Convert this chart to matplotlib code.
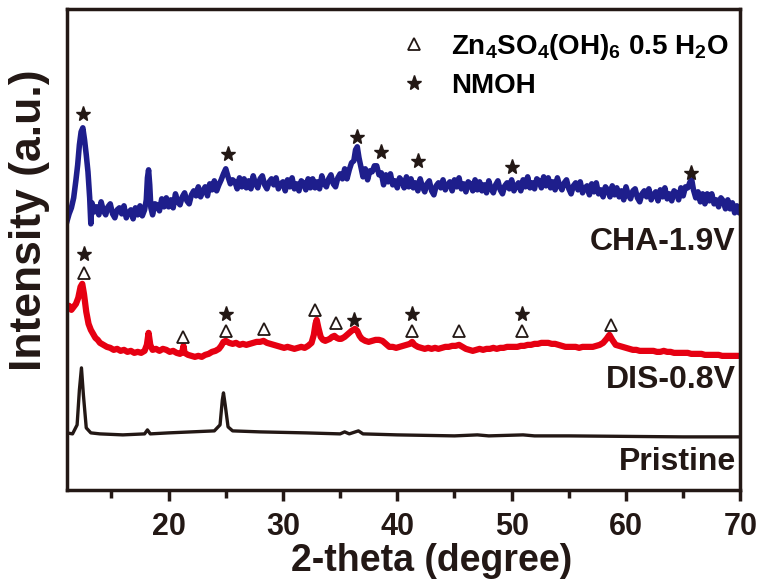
import matplotlib
matplotlib.use("Agg")
import matplotlib.pyplot as plt
from matplotlib.lines import Line2D

plt.rcParams['font.family'] = ['Liberation Sans', 'DejaVu Sans']
plt.rcParams['font.weight'] = 'bold'
plt.rcParams['mathtext.default'] = 'regular'

# (2-theta, intensity), arbitrary units
pristine = [(11.1, 57), (11.6, 56), (12.0, 65), (12.2, 100), (12.38, 122), (12.55, 95),
            (12.8, 62), (13.2, 57), (14, 56), (16, 55), (17.9, 56), (18.15, 60), (18.4, 56),
            (20, 57), (22, 58), (24, 59), (24.5, 65), (24.7, 90), (24.8, 97), (24.95, 85),
            (25.2, 63), (25.6, 59), (28, 58), (32, 57), (35, 56), (35.4, 58), (35.8, 56),
            (36.6, 59), (37, 56), (40, 55), (45, 54), (47, 55), (48, 54), (51, 55), (52, 54),
            (55, 54), (60, 53.5), (65, 53), (70, 53)]

dis = [(11.1, 182), (11.3, 184), (11.5, 180), (11.7, 183), (11.9, 186), (12.1, 192), (12.3, 203),
       (12.45, 206), (12.6, 196), (12.8, 178), (13.0, 166), (13.2, 160), (13.4, 156), (13.6, 152),
       (13.8, 150), (14.0, 147), (14.3, 145), (14.6, 143), (14.9, 142), (15.2, 140), (15.5, 141),
       (15.8, 139), (16.1, 140), (16.4, 138), (16.7, 139), (17.0, 137), (17.3, 138), (17.6, 137),
       (17.9, 139), (18.1, 145), (18.25, 157), (18.4, 145), (18.6, 140), (18.9, 141), (19.2, 139),
       (19.5, 141), (19.8, 140), (20.1, 138), (20.4, 139), (20.7, 137), (21.0, 136), (21.2, 138),
       (21.3, 144), (21.4, 137), (21.7, 135), (22.0, 134), (22.3, 133), (22.6, 134), (22.9, 133),
       (23.2, 135), (23.5, 136), (23.8, 138), (24.1, 139), (24.4, 141), (24.6, 144), (24.8, 148),
       (25.0, 149), (25.3, 147), (25.6, 146), (25.9, 147), (26.2, 145), (26.5, 146), (26.8, 145),
       (27.1, 146), (27.4, 147), (27.7, 148), (28.0, 148), (28.3, 149), (28.6, 147), (28.9, 146),
       (29.2, 145), (29.5, 144), (29.8, 143), (30.1, 142), (30.4, 143), (30.7, 142), (31.0, 141),
       (31.3, 142), (31.6, 143), (31.9, 142), (32.2, 144), (32.5, 147), (32.7, 155), (32.85, 166),
       (32.95, 170), (33.1, 162), (33.3, 153), (33.5, 150), (33.7, 149), (33.9, 150), (34.1, 151),
       (34.3, 153), (34.5, 154), (34.7, 152), (34.9, 151), (35.1, 151), (35.4, 153), (35.7, 156),
       (36.0, 159), (36.3, 161), (36.5, 159), (36.7, 154), (36.9, 151), (37.2, 149), (37.5, 148),
       (37.8, 149), (38.1, 150), (38.4, 150), (38.7, 149), (39.0, 146), (39.3, 143), (39.6, 143),
       (39.9, 142), (40.2, 143), (40.5, 144), (40.8, 145), (41.1, 146), (41.3, 148), (41.5, 145),
       (41.8, 143), (42.1, 142), (42.4, 141), (42.7, 142), (43.0, 141), (43.3, 142), (43.6, 141),
       (43.9, 142), (44.2, 143), (44.5, 143), (44.8, 144), (45.1, 144), (45.4, 145), (45.7, 143),
       (46.0, 141), (46.3, 140), (46.6, 139), (46.9, 140), (47.2, 141), (47.5, 140), (47.8, 141),
       (48.1, 141), (48.4, 142), (48.7, 141), (49.0, 142), (49.3, 142), (49.6, 143), (49.9, 143),
       (50.2, 143), (50.5, 143), (50.8, 144), (51.1, 144), (51.4, 145), (51.7, 145), (52.0, 146),
       (52.3, 146), (52.6, 147), (52.9, 147), (53.2, 147), (53.5, 146), (53.8, 146), (54.1, 145),
       (54.4, 144), (54.7, 143), (55.0, 143), (55.3, 143), (55.6, 143), (55.9, 142), (56.2, 143),
       (56.5, 143), (56.8, 143), (57.1, 143), (57.4, 144), (57.7, 145), (58.0, 147), (58.3, 151),
       (58.55, 155), (58.8, 150), (59.1, 145), (59.4, 144), (59.7, 143), (60.0, 142), (60.3, 141),
       (60.6, 140), (60.9, 140), (61.2, 139), (61.5, 139), (61.8, 139), (62.1, 139), (62.4, 139),
       (62.7, 138), (63.0, 138), (63.3, 139), (63.6, 138), (63.9, 138), (64.2, 137), (64.5, 137),
       (64.8, 137), (65.1, 137), (65.4, 137), (65.7, 136), (66.0, 136), (66.3, 136), (66.6, 136),
       (66.9, 135), (67.2, 135), (67.5, 135), (67.8, 135), (68.1, 135), (68.4, 134), (68.7, 134),
       (69.0, 134), (69.3, 134), (69.6, 134), (70.0, 134)]

cha = [(11.1, 268), (11.3, 276), (11.5, 282), (11.7, 292), (11.9, 310), (12.05, 325), (12.2, 345),
       (12.35, 358), (12.5, 362), (12.65, 350), (12.8, 335), (12.95, 318), (13.1, 292), (13.2, 266),
       (13.3, 287), (13.5, 278), (13.7, 283), (13.9, 275), (14.1, 288), (14.3, 279), (14.5, 275),
       (14.7, 283), (14.9, 286), (15.1, 276), (15.3, 272), (15.5, 280), (15.7, 282), (15.9, 276),
       (16.1, 284), (16.3, 272), (16.5, 277), (16.7, 280), (16.9, 271), (17.1, 282), (17.3, 275),
       (17.5, 284), (17.7, 274), (17.9, 280), (18.05, 290), (18.15, 312), (18.25, 320), (18.35, 305),
       (18.45, 282), (18.6, 275), (18.8, 286), (19.0, 285), (19.2, 279), (19.4, 291), (19.6, 283),
       (19.8, 292), (20.0, 283), (20.2, 290), (20.4, 282), (20.6, 296), (20.8, 288), (21.0, 285),
       (21.2, 293), (21.4, 297), (21.6, 289), (21.8, 286), (22.0, 295), (22.2, 299), (22.4, 294),
       (22.6, 303), (22.8, 293), (23.0, 299), (23.2, 303), (23.4, 294), (23.6, 306), (23.8, 300),
       (24.0, 309), (24.2, 299), (24.4, 305), (24.6, 310), (24.8, 316), (25.0, 321), (25.2, 313),
       (25.4, 306), (25.6, 310), (25.8, 308), (26.0, 301), (26.2, 312), (26.4, 303), (26.6, 311),
       (26.8, 302), (27.0, 309), (27.2, 301), (27.4, 314), (27.6, 306), (27.8, 302), (28.0, 311),
       (28.2, 314), (28.4, 305), (28.6, 301), (28.8, 308), (29.0, 311), (29.2, 305), (29.4, 312),
       (29.6, 301), (29.8, 306), (30.0, 308), (30.2, 299), (30.4, 310), (30.6, 303), (30.8, 312),
       (31.0, 301), (31.2, 306), (31.4, 299), (31.6, 309), (31.8, 307), (32.0, 300), (32.2, 311),
       (32.4, 302), (32.6, 311), (32.8, 302), (33.0, 308), (33.2, 301), (33.4, 314), (33.6, 306),
       (33.8, 303), (34.0, 311), (34.2, 315), (34.4, 306), (34.6, 303), (34.8, 312), (35.0, 316),
       (35.2, 311), (35.4, 321), (35.6, 311), (35.8, 320), (36.0, 327), (36.2, 329), (36.35, 340),
       (36.5, 343), (36.65, 332), (36.8, 324), (37.0, 313), (37.2, 321), (37.4, 310), (37.6, 319),
       (37.8, 318), (38.0, 324), (38.2, 324), (38.4, 315), (38.6, 317), (38.8, 305), (39.0, 315),
       (39.2, 308), (39.4, 316), (39.6, 305), (39.8, 309), (40.0, 302), (40.2, 312), (40.4, 309),
       (40.6, 302), (40.8, 313), (41.0, 303), (41.2, 311), (41.4, 302), (41.6, 307), (41.8, 299),
       (42.0, 311), (42.2, 303), (42.4, 298), (42.6, 306), (42.8, 309), (43.0, 299), (43.2, 295),
       (43.4, 304), (43.6, 307), (43.8, 302), (44.0, 310), (44.2, 300), (44.4, 305), (44.6, 308),
       (44.8, 299), (45.0, 310), (45.2, 303), (45.4, 312), (45.6, 301), (45.8, 306), (46.0, 298),
       (46.2, 308), (46.4, 306), (46.6, 299), (46.8, 310), (47.0, 300), (47.2, 308), (47.4, 299),
       (47.6, 305), (47.8, 297), (48.0, 309), (48.2, 301), (48.4, 297), (48.6, 305), (48.8, 309),
       (49.0, 300), (49.2, 296), (49.4, 304), (49.6, 307), (49.8, 301), (50.0, 310), (50.2, 299),
       (50.4, 304), (50.6, 307), (50.8, 299), (51.0, 310), (51.2, 303), (51.4, 313), (51.6, 302),
       (51.8, 307), (52.0, 301), (52.2, 311), (52.4, 309), (52.6, 302), (52.8, 313), (53.0, 304),
       (53.2, 312), (53.4, 302), (53.6, 308), (53.8, 300), (54.0, 312), (54.2, 304), (54.4, 300),
       (54.6, 307), (54.8, 310), (55.0, 301), (55.2, 296), (55.4, 304), (55.6, 307), (55.8, 300),
       (56.0, 308), (56.2, 297), (56.4, 302), (56.6, 304), (56.8, 295), (57.0, 306), (57.2, 298),
       (57.4, 307), (57.6, 296), (57.8, 300), (58.0, 293), (58.2, 303), (58.4, 300), (58.6, 293),
       (58.8, 304), (59.0, 295), (59.2, 302), (59.4, 293), (59.6, 299), (59.8, 290), (60.0, 303),
       (60.2, 295), (60.4, 291), (60.6, 299), (60.8, 301), (61.0, 292), (61.2, 288), (61.4, 296),
       (61.6, 299), (61.8, 293), (62.0, 301), (62.2, 290), (62.4, 295), (62.6, 298), (62.8, 289),
       (63.0, 300), (63.2, 293), (63.4, 302), (63.6, 291), (63.8, 296), (64.0, 289), (64.2, 299),
       (64.4, 297), (64.6, 290), (64.8, 302), (65.0, 294), (65.2, 303), (65.4, 302), (65.6, 308),
       (65.75, 310), (65.9, 300), (66.1, 292), (66.3, 298), (66.5, 288), (66.7, 296), (66.9, 286),
       (67.1, 296), (67.3, 289), (67.5, 296), (67.7, 286), (67.9, 290), (68.1, 283), (68.3, 292),
       (68.5, 289), (68.7, 281), (68.9, 290), (69.1, 281), (69.3, 287), (69.5, 277), (69.7, 284),
       (69.9, 277), (70.0, 280)]

# peak markers (2-theta, height of marker)
cha_stars = [(12.55, 376), (25.2, 336), (36.5, 353), (38.55, 338), (41.85, 329), (50.0, 323), (65.7, 317)]
dis_stars = [(12.6, 236), (25.0, 176), (36.2, 170), (41.3, 176), (50.9, 176)]
dis_tri = [(12.6, 217), (21.3, 153), (25.0, 159), (28.3, 161), (32.8, 180), (34.6, 167),
           (41.3, 159), (45.4, 159), (50.9, 159), (58.7, 165)]

labels = ['CHA-1.9V', 'DIS-0.8V', 'Pristine']
label_y = [248, 110, 28]
colors = ['#1e1e8c', '#e60012', '#231815']

fig = plt.figure(figsize=(7.68, 5.86), dpi=100)
ax = fig.add_axes([0.087, 0.164, 0.877, 0.821])

ax.plot(*zip(*pristine), color=colors[2], lw=2.4)
ax.plot(*zip(*dis), color=colors[1], lw=4.5)
ax.plot(*zip(*cha), color=colors[0], lw=4.0)

mk = '#231815'
ax.plot(*zip(*cha_stars), ls='none', marker='*', ms=11, color=mk)
ax.plot(*zip(*dis_stars), ls='none', marker='*', ms=11, color=mk)
ax.plot(*zip(*dis_tri), ls='none', marker='^', ms=9, mfc='white', mec=mk, mew=1.3)

for lab, y in zip(labels, label_y):
    ax.text(69.6, y, lab, ha='right', va='center', fontsize=23, fontweight='bold', color='#231815')

handles = [Line2D([], [], ls='none', marker='^', ms=9, mfc='white', mec=mk, mew=1.3),
           Line2D([], [], ls='none', marker='*', ms=11, color=mk)]
ax.legend(handles, [r'Zn$_4$SO$_4$(OH)$_6$ 0.5 H$_2$O', 'NMOH'],
          loc='upper left', bbox_to_anchor=(0.478, 0.975), frameon=False,
          fontsize=20, handlelength=1.0, handletextpad=0.85, labelspacing=0.4,
          borderaxespad=0)

ax.set_xlim(11.1, 70)
ax.set_ylim(0, 481)
ax.set_xticks([20, 30, 40, 50, 60, 70])
ax.set_xticks([15, 25, 35, 45, 55, 65], minor=True)
ax.set_yticks([])
ax.tick_params(axis='x', which='major', length=8, width=2.5, labelsize=22, pad=8, colors='#231815')
ax.tick_params(axis='x', which='minor', length=6, width=2.5, colors='#231815')
for s in ax.spines.values():
    s.set_linewidth(2.5)
    s.set_color('#231815')

ax.set_xlabel('2-theta (degree)', fontsize=27, fontweight='bold', color='#231815')
ax.xaxis.set_label_coords(0.542, -0.11)
ax.set_ylabel('Intensity (a.u.)', fontsize=32, fontweight='bold', color='#231815')
ax.yaxis.set_label_coords(-0.025, 0.56)

fig.savefig('out.png', dpi=100)
